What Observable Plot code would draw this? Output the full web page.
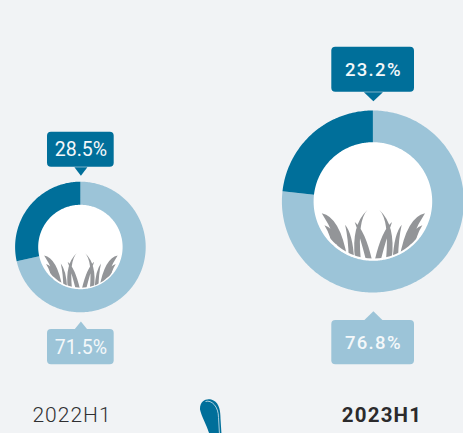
<!DOCTYPE html>
<html>
<head>
<meta charset="utf-8">
<script src="https://cdn.jsdelivr.net/npm/d3@7"></script>
<script src="https://cdn.jsdelivr.net/npm/@observablehq/plot@0.6"></script>
<style>
html,body{margin:0;padding:0;background:#f1f3f5;overflow:hidden}
.tag-old text{letter-spacing:0}
.tag-new text{letter-spacing:1.3px}
.per-old text{letter-spacing:1px}
.per-new text{letter-spacing:1.2px}
</style>
</head>
<body>
<div id="chart"></div>
<script>
// Values
const periods = ["2022H1", "2023H1"];
const darkShare = [28.5, 23.2];
const lightShare = [71.5, 76.8];

// Layout, separate from the values
const W = 463, H = 433;
const DARK = "#006f9a", LIGHT = "#9cc4d8", BG = "#f1f3f5";
const centerX = [80.4, 372.9], centerY = [247, 201.5];
const outerR = [65.3, 91], innerR = [42.2, 59.3];
const tagX1 = [47, 331.3], tagX2 = [113.7, 414];
const topTag = [[131.7, 166.7, 175.2], [46.7, 91.7, 100.7]];
const botTag = [[329, 364.3, 321], [320, 364.3, 310.7]];
const tipHalf = [6.5, 9.5];

// Grass symbol, in 1/178 of the hole radius, relative to the hole centre
const blades = [
  // tip, control, base, base, control
  [[-155,34],[-100,45],[-78,170],[-100,165],[-115,95]],
  [[-147,70],[-125,75],[-100,118],[-125,140],[-125,105]],
  [[-85,68],[-62,95],[-58,172],[-74,172],[-75,110]],
  [[-18,24],[-48,55],[-38,172],[-55,172],[-68,70]],
  [[-56,60],[-25,85],[-4,175],[-22,175],[-40,105]]
];
const grass = {
  draw(ctx, size) {
    const k = Math.sqrt(size / Math.PI) / 178;
    for (const m of [-1, 1]) for (const [t, c1, b1, b2, c2] of blades) {
      ctx.moveTo(m * t[0] * k, t[1] * k);
      ctx.quadraticCurveTo(m * c1[0] * k, c1[1] * k, m * b1[0] * k, b1[1] * k);
      ctx.lineTo(m * b2[0] * k, b2[1] * k);
      ctx.quadraticCurveTo(m * c2[0] * k, c2[1] * k, m * t[0] * k, t[1] * k);
      ctx.closePath();
    }
  }
};
// Decorative droplet cut by the lower page edge
const droplet = {
  draw(ctx, size) {
    const k = Math.sqrt(size / Math.PI) / 20;
    ctx.moveTo(-10.5 * k, -7 * k);
    ctx.bezierCurveTo(-11 * k, -17 * k, -2 * k, -19 * k, 3 * k, -16 * k);
    ctx.bezierCurveTo(9 * k, -13 * k, 10 * k, -5 * k, 10 * k, 2 * k);
    ctx.lineTo(11 * k, 18 * k);
    ctx.lineTo(-1 * k, 18 * k);
    ctx.bezierCurveTo(-4 * k, 8 * k, -9 * k, 0, -10.5 * k, -7 * k);
    ctx.closePath();
  }
};
const dropletGlint = {
  draw(ctx, size) {
    const k = Math.sqrt(size / Math.PI) / 20;
    ctx.moveTo(-5 * k, -15 * k);
    ctx.bezierCurveTo(1 * k, -17 * k, 8 * k, -10 * k, 8 * k, 1 * k);
    ctx.lineTo(9 * k, 18 * k);
  }
};

// Donut slices built from the shares: dark runs back from 12 o'clock, light runs on from it
const ring = [];
periods.forEach((p, i) => {
  const add = (slice, from, to) => {
    const n = Math.max(2, Math.ceil(Math.abs(to - from) * 3.6));
    for (let j = 0; j <= n; ++j) {
      const a = (from + (to - from) * j / n) / 100 * 2 * Math.PI;
      ring.push({
        key: p + slice, slice,
        xo: centerX[i] + outerR[i] * Math.sin(a), yo: centerY[i] - outerR[i] * Math.cos(a),
        xi: centerX[i] + innerR[i] * Math.sin(a), yi: centerY[i] - innerR[i] * Math.cos(a)
      });
    }
  };
  add("light", 0, lightShare[i]);
  add("dark", -darkShare[i], 0);
});

const idx = [0, 1];
const tags = idx.flatMap(i => [
  {i, slice: "dark", y1: topTag[i][0], y2: topTag[i][1], tip: topTag[i][2], edge: topTag[i][1], v: darkShare[i]},
  {i, slice: "light", y1: botTag[i][0], y2: botTag[i][1], tip: botTag[i][2], edge: botTag[i][0], v: lightShare[i]}
]);
const tips = tags.flatMap((t, n) => [
  {n, slice: t.slice, x: centerX[t.i] - tipHalf[t.i], y: t.edge},
  {n, slice: t.slice, x: centerX[t.i], y: t.tip},
  {n, slice: t.slice, x: centerX[t.i] + tipHalf[t.i], y: t.edge}
]);
const tagText = () => ({
  x: t => centerX[t.i],
  y: t => (t.y1 + t.y2) / 2 + 0.5,
  text: t => t.v.toFixed(1) + "%",
  fill: "#f4f8fa",
  lineAnchor: "middle",
  fontFamily: "Roboto, sans-serif"
});
const old = tags.filter(t => t.i === 0), neu = tags.filter(t => t.i === 1);

const chart = Plot.plot({
  width: W, height: H,
  margin: 0,
  style: {background: BG, display: "block"},
  x: {domain: [0, W], range: [0, W], axis: null},
  y: {domain: [0, H], range: [0, H], axis: null},
  color: {domain: ["dark", "light"], range: [DARK, LIGHT]},
  marks: [
    ...idx.flatMap(i => {
      const at = {x: () => centerX[i], y: () => centerY[i]};
      return [
        Plot.dot([i], {...at, r: innerR[i] + 1, fill: "white", stroke: "none"}),
        Plot.dot([i], {...at, r: innerR[i], symbol: grass, fill: "#939598", stroke: "none"}),
        Plot.dot([i], {...at, r: innerR[i] * 0.977, fill: "none", stroke: "white", strokeWidth: innerR[i] * 0.05})
      ];
    }),
    Plot.area(ring, {x1: "xo", y1: "yo", x2: "xi", y2: "yi", z: "key", fill: "slice"}),
    Plot.line(tips, {x: "x", y: "y", z: "n", fill: "slice", stroke: "none"}),
    Plot.rect(tags, {x1: t => tagX1[t.i], x2: t => tagX2[t.i], y1: "y1", y2: "y2", fill: "slice", rx: 4}),
    Plot.text(old, {...tagText(), fontSize: 19.5, className: "tag-old"}),
    Plot.text(neu, {...tagText(), fontSize: 18.5, fontWeight: 500, className: "tag-new"}),
    Plot.text([periods[0]], {x: () => 71.5, y: () => 415, text: d => d, fontSize: 21, fontWeight: 300, fill: "#2f2f31", fontFamily: "Roboto, sans-serif", lineAnchor: "middle", className: "per-old"}),
    Plot.text([periods[1]], {x: () => 381.5, y: () => 415, text: d => d, fontSize: 20.5, fontWeight: 700, fill: "#2b2a2c", fontFamily: "Roboto, sans-serif", lineAnchor: "middle", className: "per-new"}),
    Plot.dot([0], {x: () => 210, y: () => 416, r: 20, symbol: droplet, fill: DARK, stroke: "none"}),
    Plot.dot([0], {x: () => 210, y: () => 416, r: 20, symbol: dropletGlint, fill: "none", stroke: "#d9e9f0", strokeWidth: 0.8})
  ]
});
document.getElementById("chart").append(chart);
</script>
</body>
</html>
